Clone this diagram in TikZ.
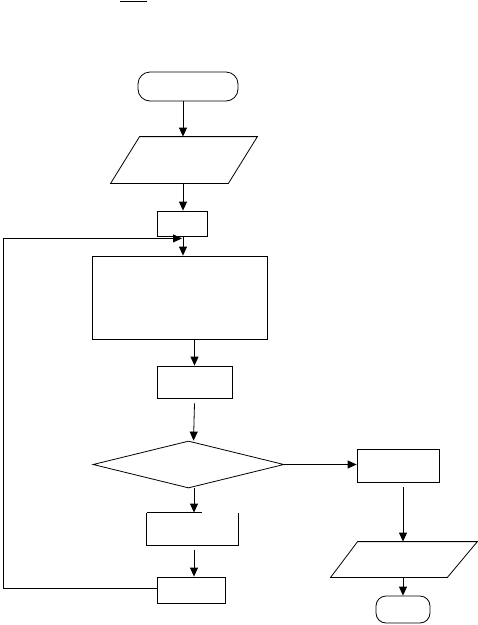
\documentclass[tikz,border=0pt]{standalone}
\usetikzlibrary{arrows.meta,shapes.geometric}
\begin{document}
\begin{tikzpicture}[x=1pt,y=-1pt,
  line width=0.8pt,
  arr/.style={-{Triangle[length=9pt,width=8pt]}},
  boxnode/.style={draw,rectangle,inner sep=0pt},
  hidden/.style={rectangle,inner sep=0pt},
  term/.style={draw,rectangle,inner sep=0pt}]
\useasboundingbox (0,0) rectangle (478,625);
% small mark at top
\draw[line width=1.4pt] (120,1.5) -- (147,1.5);
% nodes
\node[term,rounded corners=12pt,minimum width=100pt,minimum height=29pt] (s) at (188,86.5) {};
\node[hidden,minimum width=146pt,minimum height=46pt] (p1) at (184,160) {};
\node[boxnode,minimum width=50pt,minimum height=25pt] (b1) at (182,223.5) {};
\node[boxnode,minimum width=175pt,minimum height=83pt] (b2) at (179.5,297.5) {};
\node[boxnode,minimum width=75pt,minimum height=32pt] (b3) at (194.5,382) {};
\node[draw,diamond,inner sep=0pt,minimum width=191pt,minimum height=47pt] (d) at (188.5,464.5) {};
\node[boxnode,minimum width=82pt,minimum height=33pt] (b6) at (398,465.5) {};
\node[hidden,minimum width=91pt,minimum height=32pt] (b4) at (192.5,529) {};
\node[boxnode,minimum width=68pt,minimum height=26pt] (b5) at (191,590) {};
\node[hidden,minimum width=146pt,minimum height=35pt] (p2) at (404,559.5) {};
\node[term,rounded corners=10pt,minimum width=54pt,minimum height=27pt] (e) at (403,609.5) {};
\coordinate (L) at (3,0);
% parallelograms
\draw ([xshift=29pt]p1.north west) -- (p1.north east) -- ([xshift=-29pt]p1.south east) -- (p1.south west) -- cycle;
\draw ([xshift=27pt]p2.north west) -- (p2.north east) -- ([xshift=-30pt]p2.south east) -- (p2.south west) -- cycle;
% open box
\draw (b4.north west) -- ([xshift=55pt]b4.north west);
\draw (b4.north east) -- (b4.south east) -- (b4.south west) -- (b4.north west);
% connectors
\draw[arr] ([xshift=-5pt]s.south) -- ([xshift=-5pt]s.south |- p1.north);
\draw[arr] ([xshift=-1pt]p1.south) -- ([xshift=-1pt]p1.south |- b1.north);
\draw[arr] ([xshift=1pt]b1.south) -- ([xshift=1pt]b1.south |- b2.north);
\draw[arr] (b2.south -| b3.north) -- (b3.north);
\draw[arr] ([yshift=-5pt]b3.south) -- ([xshift=-1pt]b3.south |- d.north);
\draw[arr] (d.east) -- (d.east -| b6.west);
\draw[arr] ([xshift=5pt,yshift=-5pt]b6.south) -- ([xshift=5pt]b6.south |- p2.north);
\draw[arr] ([xshift=5.5pt]d.south) -- ([xshift=1.5pt]b4.north);
\draw[arr] ([xshift=1.5pt,yshift=-5pt]b4.south) -- ([xshift=3pt]b5.north);
\draw[arr] ([xshift=-1pt]p2.south) -- (e.north);
\draw[arr] ([yshift=2pt]b5.west) -- ([yshift=2pt]b5.west -| L) |- ([yshift=-2pt]b1.south);
\end{tikzpicture}
\end{document}
